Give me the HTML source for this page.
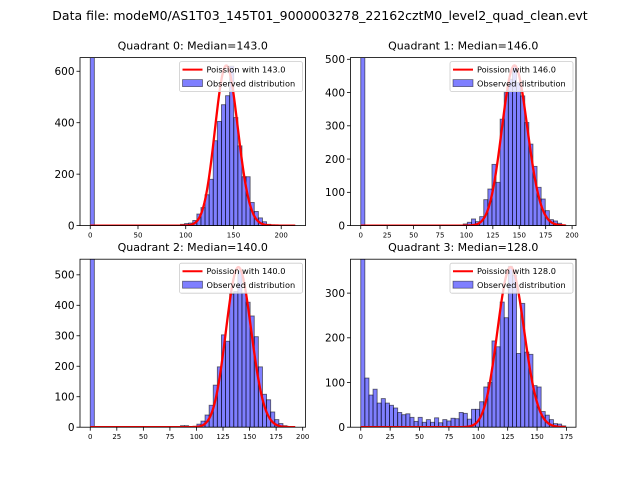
<!DOCTYPE html>
<html><head><meta charset="utf-8"><style>
html,body{margin:0;padding:0;background:#fff;}
svg{display:block;font-family:"DejaVu Sans","Liberation Sans",sans-serif;}
</style></head><body>
<svg id="fig" width="640" height="480" viewBox="0 0 640 480">
<rect width="640" height="480" fill="#fff"/>
<text x="320" y="20" font-size="12.5" text-anchor="middle">Data file: modeM0/AS1T03_145T01_9000003278_22162cztM0_level2_quad_clean.evt</text>
</svg>
<script>
// Quadrant data
const medians = [143.0, 146.0, 140.0, 128.0];
const dataMax = [214.7, 194.0, 193.0, 174.4];
const poissonPeak = [622, 481, 525, 358];
const xTicks0 = [0, 50, 100, 150, 200];
const xTicks1 = [0, 25, 50, 75, 100, 125, 150, 175, 200];
const xTicks2 = [0, 25, 50, 75, 100, 125, 150, 175, 200];
const xTicks3 = [0, 25, 50, 75, 100, 125, 150, 175];
const yTicks0 = [0, 200, 400, 600];
const yTicks1 = [0, 100, 200, 300, 400, 500];
const yTicks2 = [0, 100, 200, 300, 400, 500];
const yTicks3 = [0, 100, 200, 300];
const counts0 = [2000,0,0,0,0,0,0,0,0,0, 0,0,0,0,0,0,0,0,0,0, 0,0,5,8,10,20,45,70,120,180, 330,405,470,505,620,420,310,190,190,90, 55,30,15,5,3,2,1,1,0,0];
const counts1 = [2000,0,0,0,0,0,0,0,0,0, 0,0,0,0,0,0,0,0,0,0, 0,0,0,0,2,5,10,20,12,27, 78,110,184,130,320,400,440,480,430,390, 310,245,178,115,80,45,18,14,7,2];
const counts2 = [2000,0,0,0,0,0,0,0,0,0, 0,0,0,0,0,0,0,0,0,0, 0,0,5,5,0,3,10,20,40,72, 138,198,303,282,437,445,512,440,410,365, 297,198,108,90,50,25,12,5,2,0];
const counts3 = [2000,110,72,85,54,64,54,49,43,33, 28,30,22,13,22,11,17,11,21,10, 17,14,20,19,33,31,18,40,40,57, 90,100,193,180,280,245,360,340,165,277, 168,163,93,90,35,27,17,8,7,3];

const allCounts = [counts0, counts1, counts2, counts3];
const allXT = [xTicks0, xTicks1, xTicks2, xTicks3];
const allYT = [yTicks0, yTicks1, yTicks2, yTicks3];
const boxes = [[80,57.6,225.5,168],[350.5,57.6,225.5,168],[80,259.2,225.5,168],[350.5,259.2,225.5,168]];
const NS = "http://www.w3.org/2000/svg";
const fig = document.getElementById('fig');
function mk(tag, attrs, parent){const e=document.createElementNS(NS,tag);for(const k in attrs)e.setAttribute(k,attrs[k]);parent.appendChild(e);return e;}
function lgamma(z){const c=[76.18009172947146,-86.50532032941677,24.01409824083091,-1.231739572450155,0.1208650973866179e-2,-0.5395239384953e-5];let x=z,y=z,t=x+5.5;t-=(x+0.5)*Math.log(t);let s=1.000000000190015;for(let j=0;j<6;j++)s+=c[j]/++y;return -t+Math.log(2.5066282746310005*s/x);}
function pois(k,l){return Math.exp(k*Math.log(l)-l-lgamma(k+1));}

for(let q=0;q<4;q++){
  const [L,T,W,H]=boxes[q];
  const counts=allCounts[q], dm=dataMax[q], nb=counts.length, bw=dm/nb;
  const xmin=-0.05*dm, xmax=1.05*dm, ymax=poissonPeak[q]*1.05;
  const xs=v=>L+(v-xmin)/(xmax-xmin)*W;
  const ys=v=>T+H-v/ymax*H;
  const g=mk('g',{},fig);
  
  
  const cid='clip'+q;
  const cp=mk('clipPath',{id:cid},g); mk('rect',{x:L,y:T,width:W,height:H},cp);
  // bars
  for(let i=0;i<nb;i++){
    if(counts[i]<=0)continue;
    const x0=xs(i*bw),x1=xs((i+1)*bw),y0=ys(counts[i]);
    const r=mk('rect',{x:x0,y:y0,width:x1-x0,height:ys(0)-y0,fill:'rgba(0,0,255,0.5)',stroke:'rgba(0,0,0,0.55)','stroke-width':0.9,'clip-path':'url(#'+cid+')'},g);
    
    
  }
  // poisson curve
  const lam=medians[q], peakP=pois(Math.round(lam),lam), scale=poissonPeak[q]/peakP;
  let d='';
  for(let i=0;i<=300;i++){const x=dm*i/300;const y=scale*pois(x,lam);d+=(i?'L':'M')+xs(x).toFixed(2)+','+ys(y).toFixed(2);}
  const curve=mk('path',{d:d,fill:'none',stroke:'#ff0000','stroke-width':2.3,'clip-path':'url(#'+cid+')'},g);
  
  
  // axes frame
  const fr=mk('rect',{x:L,y:T,width:W,height:H,fill:'none',stroke:'#000','stroke-width':0.8},g);
  
  
  // x ticks
  for(const t of allXT[q]){
    const x=xs(t);
    mk('line',{x1:x,y1:T+H,x2:x,y2:T+H+3.5,stroke:'#000','stroke-width':0.8},g);
    const tx=mk('text',{x:x,y:T+H+12,'font-size':7,'text-anchor':'middle'},g);
    tx.textContent=t;
    
    
  }
  // y ticks
  for(const t of allYT[q]){
    const y=ys(t);
    mk('line',{x1:L,y1:y,x2:L-3.5,y2:y,stroke:'#000','stroke-width':0.8},g);
    const ty=mk('text',{x:L-5.5,y:y+3.8,'font-size':10.5,'text-anchor':'end'},g);
    ty.textContent=t;
    
    
  }
  // title
  const tt=mk('text',{x:L+W/2,y:T-8,'font-size':11,'text-anchor':'middle'},g);
  tt.textContent='Quadrant '+q+': Median='+medians[q].toFixed(1);
  
  
  // legend
  const lg=mk('g',{},g);
  
  
  const lw=123,lx=L+W-lw-3,ly=T+4;
  mk('rect',{x:lx,y:ly,width:lw,height:30,rx:2,fill:'rgba(255,255,255,0.8)',stroke:'#ccc','stroke-width':0.8},lg);
  mk('line',{x1:lx+3,y1:ly+8,x2:lx+23,y2:ly+8,stroke:'#ff0000','stroke-width':2},lg);
  const l1=mk('text',{x:lx+27,y:ly+11,'font-size':8.2},lg); l1.textContent='Poission with '+medians[q].toFixed(1);
  
  
  mk('rect',{x:lx+3,y:ly+18,width:20,height:7,fill:'rgba(0,0,255,0.5)',stroke:'rgba(0,0,0,0.5)','stroke-width':0.8},lg);
  const l2=mk('text',{x:lx+27,y:ly+25},lg); l2.setAttribute('font-size','8.2'); l2.textContent='Observed distribution';
  
  
}
</script>
</body></html>
